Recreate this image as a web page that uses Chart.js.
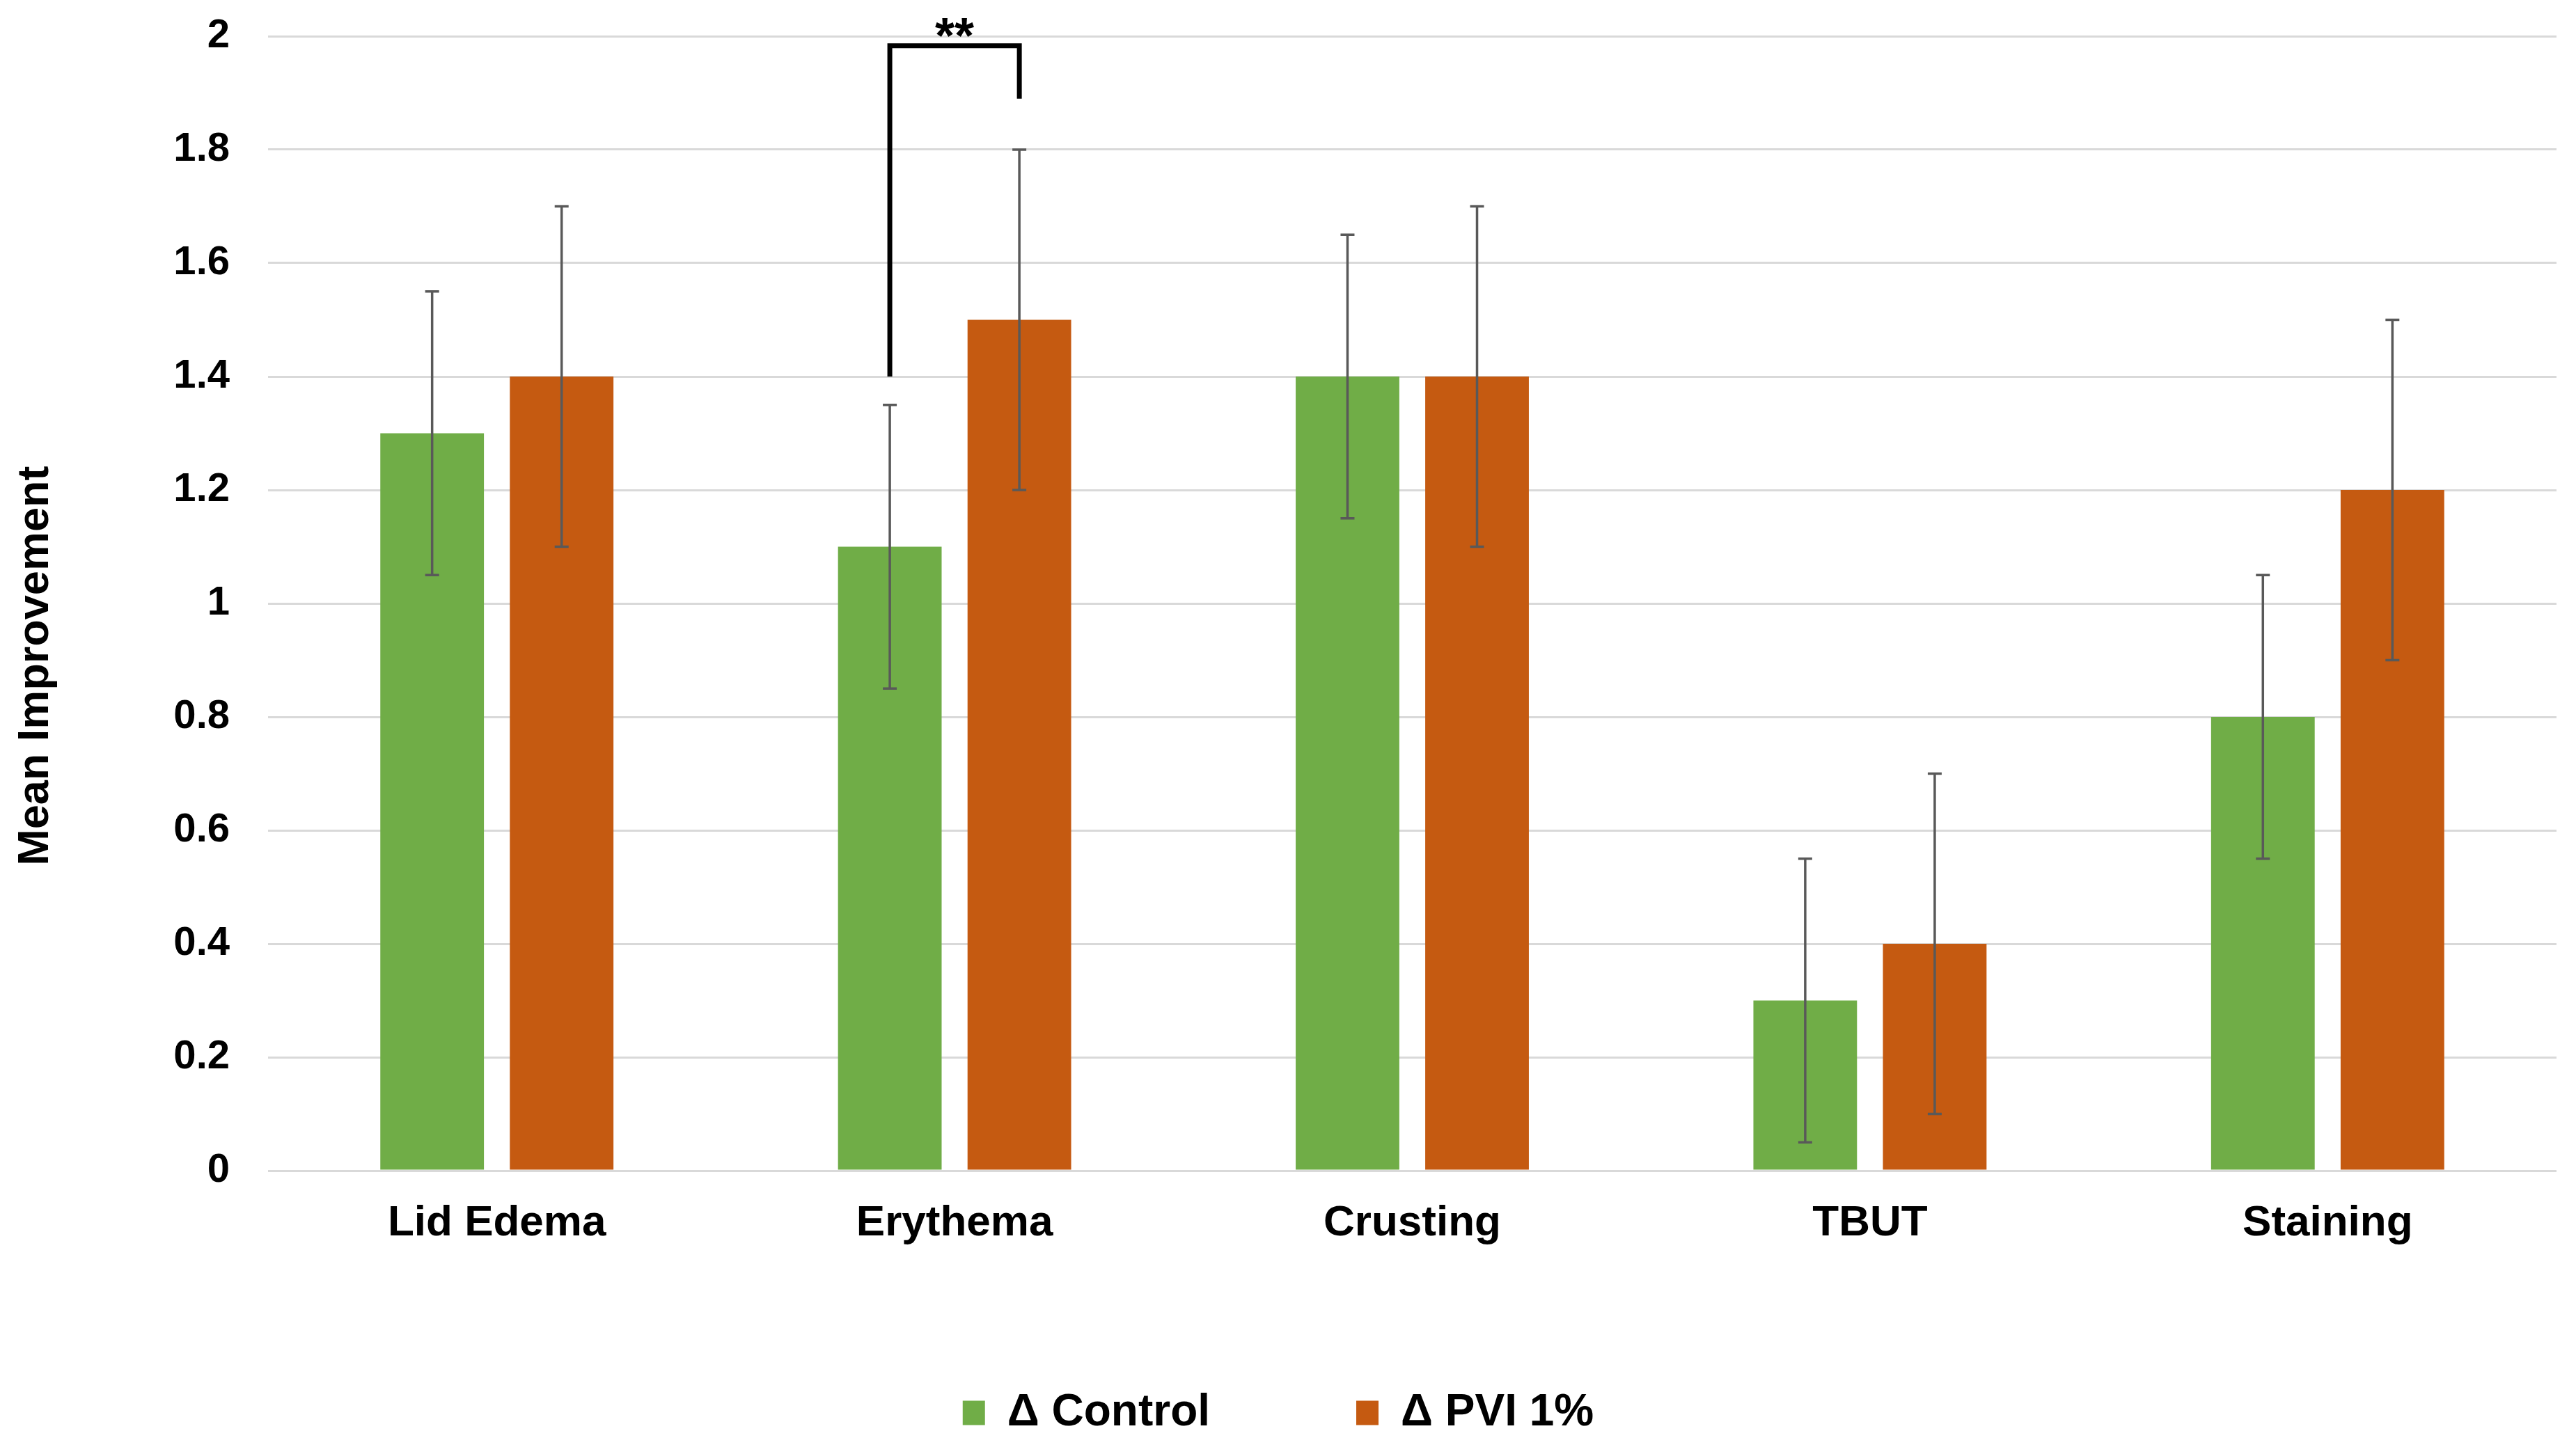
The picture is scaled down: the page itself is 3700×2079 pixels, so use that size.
<!DOCTYPE html>
<html>
<head>
<meta charset="utf-8">
<script src="https://cdn.jsdelivr.net/npm/chart.js@4/dist/chart.umd.min.js"></script>
<style>
  html, body { margin: 0; padding: 0; background: #ffffff; }
  canvas { display: block; }
</style>
</head>
<body>
<canvas id="c" width="3700" height="2079"></canvas>
<script>
// ---- data ----
const categories = ['Lid Edema', 'Erythema', 'Crusting', 'TBUT', 'Staining'];
const seriesNames = ['\u0394 Control', '\u0394 PVI 1%'];
const controlValues = [1.3, 1.1, 1.4, 0.3, 0.8];
const controlErrors = [0.25, 0.25, 0.25, 0.25, 0.25];
const pviValues = [1.4, 1.5, 1.4, 0.4, 1.2];
const pviErrors = [0.3, 0.3, 0.3, 0.3, 0.3];
const yTickLabels = ['0', '0.2', '0.4', '0.6', '0.8', '1', '1.2', '1.4', '1.6', '1.8', '2'];
const yTitle = 'Mean Improvement';
// significance bracket (Erythema)
const sigCategoryIndex = 1;
const sigLabel = '**';
const sigTopValue = 1.983;
const sigLeftBottomValue = 1.4;
const sigRightBottomValue = 1.89;
const sigLabelValue = 2.015;

const GREEN = '#70AD47';
const ORANGE = '#C55A11';
const FONT = "'Liberation Sans', Arial, sans-serif";

const errorBarPlugin = {
  id: 'errorBars',
  afterDatasetsDraw(chart) {
    const ctx = chart.ctx;
    const y = chart.scales.y;
    const errs = [controlErrors, pviErrors];
    ctx.save();
    ctx.strokeStyle = '#595959';
    ctx.lineWidth = 3.5;
    chart.data.datasets.forEach((ds, di) => {
      const meta = chart.getDatasetMeta(di);
      meta.data.forEach((bar, i) => {
        const v = ds.data[i];
        const e = errs[di][i];
        const x = bar.x;
        const yTop = y.getPixelForValue(v + e);
        const yBot = y.getPixelForValue(v - e);
        const cap = 10;
        ctx.beginPath();
        ctx.moveTo(x, yTop); ctx.lineTo(x, yBot);
        ctx.moveTo(x - cap, yTop); ctx.lineTo(x + cap, yTop);
        ctx.moveTo(x - cap, yBot); ctx.lineTo(x + cap, yBot);
        ctx.stroke();
      });
    });
    ctx.restore();
  }
};

const sigPlugin = {
  id: 'sigBracket',
  afterDatasetsDraw(chart) {
    const ctx = chart.ctx;
    const y = chart.scales.y;
    const x1 = chart.getDatasetMeta(0).data[sigCategoryIndex].x;
    const x2 = chart.getDatasetMeta(1).data[sigCategoryIndex].x;
    const yT = y.getPixelForValue(sigTopValue);
    ctx.save();
    ctx.strokeStyle = '#000000';
    ctx.lineWidth = 7;
    ctx.lineJoin = 'miter';
    ctx.beginPath();
    ctx.moveTo(x1, y.getPixelForValue(sigLeftBottomValue));
    ctx.lineTo(x1, yT);
    ctx.lineTo(x2, yT);
    ctx.lineTo(x2, y.getPixelForValue(sigRightBottomValue));
    ctx.stroke();
    const fs = 72;
    ctx.font = 'bold ' + fs + 'px ' + FONT;
    ctx.fillStyle = '#000000';
    ctx.textAlign = 'center';
    ctx.textBaseline = 'alphabetic';
    const m = ctx.measureText(sigLabel);
    const off = (m.actualBoundingBoxAscent - m.actualBoundingBoxDescent) / 2;
    const xc = chart.scales.x.getPixelForValue(sigCategoryIndex);
    ctx.fillText(sigLabel, xc, y.getPixelForValue(sigLabelValue) + off);
    ctx.restore();
  }
};

// y-axis title, placed where the reference has it (below the axis midpoint)
const yTitlePlugin = {
  id: 'yTitle',
  afterDraw(chart) {
    const ctx = chart.ctx;
    const y = chart.scales.y;
    ctx.save();
    ctx.font = 'bold 63px ' + FONT;
    ctx.fillStyle = '#000000';
    ctx.textAlign = 'center';
    ctx.textBaseline = 'middle';
    ctx.translate(52, y.getPixelForValue(0.89));
    ctx.rotate(-Math.PI / 2);
    ctx.fillText(yTitle, 0, 0);
    ctx.restore();
  }
};

const bgPlugin = {
  id: 'bg',
  beforeDraw(chart) {
    const ctx = chart.ctx;
    ctx.save();
    ctx.fillStyle = '#ffffff';
    ctx.fillRect(0, 0, chart.width, chart.height);
    ctx.restore();
  }
};

new Chart(document.getElementById('c'), {
  type: 'bar',
  data: {
    labels: categories,
    datasets: [
      { label: seriesNames[0], data: controlValues, backgroundColor: GREEN, borderWidth: 0 },
      { label: seriesNames[1], data: pviValues, backgroundColor: ORANGE, borderWidth: 0 }
    ]
  },
  options: {
    responsive: false,
    devicePixelRatio: 1,
    animation: false,
    layout: { padding: { left: 0, right: 28, top: 52, bottom: 7 } },
    datasets: { bar: { categoryPercentage: 0.566, barPercentage: 0.8 } },
    plugins: {
      tooltip: { enabled: false },
      legend: {
        position: 'bottom',
        labels: {
          font: { family: FONT, size: 64, weight: 'bold' },
          color: '#000000',
          boxWidth: 32,
          boxHeight: 35,
          padding: 210
        }
      }
    },
    scales: {
      x: {
        grid: { display: false, drawTicks: false },
        border: { display: false },
        ticks: {
          font: { family: FONT, size: 62, weight: 'bold', lineHeight: 1.05 },
          color: '#000000',
          padding: 43,
          maxRotation: 0
        },
        afterFit(scale) { scale.height = 106; }
      },
      y: {
        min: 0,
        max: 2,
        grid: { color: '#d9d9d9', lineWidth: 3, drawTicks: true, tickLength: 55, tickColor: 'rgba(0,0,0,0)' },
        border: { display: false },
        ticks: {
          stepSize: 0.2,
          font: { family: FONT, size: 58, weight: 'bold' },
          color: '#000000',
          padding: 0,
          callback: (v, i) => yTickLabels[i]
        },
        afterFit(scale) { scale.width = 385; }
      }
    }
  },
  plugins: [bgPlugin, errorBarPlugin, sigPlugin, yTitlePlugin]
});
</script>
</body>
</html>
